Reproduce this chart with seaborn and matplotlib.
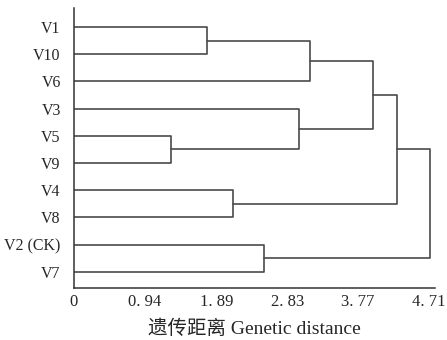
import matplotlib
matplotlib.use("Agg")
import matplotlib.pyplot as plt
import numpy as np
import pandas as pd
import seaborn as sns

# leaves in display order (top to bottom)
leaves = ["V1", "V10", "V6", "V3", "V5", "V9", "V4", "V8", "V2 (CK)", "V7"]

# merges, scipy style: cluster ids 0-9 are leaves, new ids start at 10
merge_a = [0, 4, 6, 8, 3, 10, 15, 16, 17]
merge_b = [1, 5, 7, 9, 11, 2, 14, 12, 13]
merge_h = [1.76, 1.29, 2.11, 2.52, 2.98, 3.13, 3.97, 4.28, 4.73]

tick_vals = [0, 0.94, 1.89, 2.83, 3.77, 4.71]
tick_labels = ["0", "0. 94", "1. 89", "2. 83", "3. 77", "4. 71"]

# build link segments
pos_y = {i: float(i) for i in range(len(leaves))}
pos_x = {i: 0.0 for i in range(len(leaves))}
rows = []
for k, (a, b, h) in enumerate(zip(merge_a, merge_b, merge_h)):
    cid = len(leaves) + k
    pts = [(pos_x[a], pos_y[a]), (h, pos_y[a]), (h, pos_y[b]), (pos_x[b], pos_y[b])]
    for j, (x, y) in enumerate(pts):
        rows.append({"link": k, "order": j, "x": x, "y": y})
    pos_x[cid] = h
    pos_y[cid] = (pos_y[a] + pos_y[b]) / 2
df = pd.DataFrame(rows)

sns.set_style("white")
fig = plt.figure(figsize=(4.47, 3.40), dpi=100)
ax = fig.add_axes([74 / 447, 52 / 340, 361 / 447, 280 / 340])

sns.lineplot(data=df, x="x", y="y", units="link", estimator=None, sort=False,
             color="#4a4a4a", linewidth=1.2, legend=False, ax=ax)

ax.set_xlim(0, 4.79)
ax.set_ylim(9.6, -0.7)

ax.set_yticks(range(len(leaves)))
ax.set_yticklabels(leaves, fontfamily="Liberation Serif", fontsize=11.5)
ax.tick_params(axis="y", length=0, pad=9.5)

ax.set_xticks(tick_vals)
ax.set_xticklabels(tick_labels, fontfamily="Liberation Serif", fontsize=12)
ax.tick_params(axis="x", direction="in", length=4, width=1, color="#333333", pad=4)

ax.set_xlabel("遗传距离 Genetic distance", family=["Liberation Serif", "Noto Sans CJK SC"],
              fontsize=14, labelpad=7)
ax.set_ylabel("")

sns.despine(ax=ax, top=True, right=True)
for side in ["left", "bottom"]:
    ax.spines[side].set_color("#333333")
    ax.spines[side].set_linewidth(1.1)

fig.savefig("out.png", dpi=100)
